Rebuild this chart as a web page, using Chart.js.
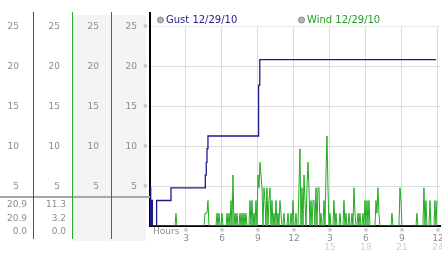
<!DOCTYPE html>
<html>
<head>
<meta charset="UTF-8">
<title>Gust / Wind 12/29/10</title>
<script src="https://cdn.jsdelivr.net/npm/chart.js"></script>
<style>
  html, body { margin: 0; padding: 0; background: #fff; }
  #wrap { position: relative; width: 442px; height: 253px; }
</style>
</head>
<body>
<div id="wrap"><canvas id="windChart" width="442" height="253"></canvas></div>
<script>
// tick labels
const hourTicks = [3, 6, 9, 12, 15, 18, 21, 24];
const hourLabels = ['3', '6', '9', '12', '3', '6', '9', '12'];
const hourLabels2 = ['', '', '', '', '15', '18', '21', '24'];
const valueTicks = [5, 10, 15, 20, 25];

// gust: peak so far today (step line), change points in hours
const gustHours  = [0,   0.06, 0.14, 0.2, 0.55, 1.75, 4.61, 4.69, 4.75, 4.83, 9.05, 9.15, 23.85];
const gustValues = [4.8, 0,    3.2,  0,   3.2,  4.8,  6.4,  8.0,  9.7,  11.3, 17.7, 20.9, 20.9];

// wind: one reading every 5 minutes from midnight, one row per hour
const windStepMinutes = 5;
const windValues = [
  0, 0, 0, 0, 0, 0, 0, 0, 0, 0, 0, 0,
  0, 0, 0, 0, 0, 0, 0, 0, 0, 0, 0, 0,
  0, 0, 1.6, 0, 0, 0, 0, 0, 0, 0, 0, 0,
  0, 0, 0, 0, 0, 0, 0, 0, 0, 0, 0, 0,
  0, 0, 0, 0, 0, 0, 0, 1.6, 1.6, 1.6, 3.2, 0,
  0, 0, 0, 0, 0, 0, 0, 1.6, 0, 1.6, 0, 0,
  1.6, 0, 0, 0, 0, 1.6, 0, 1.6, 0, 3.2, 0, 6.4,
  0, 1.6, 0, 1.6, 0, 0, 1.6, 0, 1.6, 0, 1.6, 0,
  1.6, 0, 0, 0, 3.2, 0, 3.2, 0, 1.6, 0, 3.2, 0,
  6.4, 4.8, 8.0, 6.4, 4.8, 0, 4.8, 3.2, 0, 4.8, 0, 3.2,
  4.8, 0, 3.2, 0, 1.6, 0, 3.2, 0, 1.6, 0, 3.2, 1.6,
  0, 0, 1.6, 0, 0, 0, 1.6, 0, 0, 1.6, 0, 3.2,
  0, 0, 1.6, 0, 0, 4.8, 9.7, 0, 4.8, 0, 6.4, 3.2,
  0, 4.8, 8.0, 4.8, 0, 3.2, 0, 3.2, 3.2, 0, 4.8, 0,
  4.8, 4.8, 0, 1.6, 0, 0, 3.2, 0, 6.4, 11.3, 4.8, 0,
  1.6, 0, 0, 0, 3.2, 0, 1.6, 0, 0, 0, 1.6, 0,
  0, 0, 3.2, 0, 1.6, 0, 0, 1.6, 0, 0, 1.6, 0,
  4.8, 1.6, 0, 0, 1.6, 0, 1.6, 0, 0, 1.6, 0, 3.2,
  0, 3.2, 0, 3.2, 0, 0, 0, 0, 0, 0, 3.2, 1.6,
  4.8, 1.6, 0, 0, 0, 0, 0, 0, 0, 0, 0, 0,
  0, 0, 1.6, 0, 0, 0, 0, 0, 0, 0, 4.8, 3.2,
  0, 0, 0, 0, 0, 0, 0, 0, 0, 0, 0, 0,
  0, 0, 0, 1.6, 0, 0, 0, 0, 0, 0, 4.8, 0,
  3.2, 0, 0, 0, 3.2, 0, 0, 0, 0, 3.2, 0, 3.2
];

const gustLabel = 'Gust 12/29/10';
const windLabel = 'Wind 12/29/10';

const FONT = 'DejaVu Sans';
const GRID = '#dcdcdc';
const TICK = '#8c8c8c';
const BLUE_COL = '#3050c0';
const GREEN_COL = '#2caa2c';
const RED_COL = '#c03030';

const gustPoints = gustHours.map((h, i) => ({ x: h, y: gustValues[i] }));
const windPoints = windValues.map((v, i) => ({ x: i * windStepMinutes / 60, y: v }));

// max / current / min shown under the left columns
const stats = values => [Math.max(...values), values[values.length - 1], Math.min(...values)];
const gustStats = stats(gustValues);
const windStats = stats(windValues);

function sideAxis(color, width, weight, pad) {
  return {
    position: 'left',
    weight: weight,
    min: 0,
    max: 26.75,
    grid: { display: false, drawTicks: false },
    border: { display: true, color: color, width: 1 },
    ticks: { color: TICK, padding: pad, font: { family: FONT, size: 9 }, callback: v => v },
    afterBuildTicks: s => { s.ticks = valueTicks.map(v => ({ value: v })); },
    afterFit: s => { s.width = width; s.paddingTop = 0; s.paddingBottom = 0; }
  };
}

const panelPlugin = {
  id: 'panel',
  beforeDraw(chart) {
    const { ctx, scales } = chart;
    ctx.save();
    ctx.fillStyle = '#f4f4f4';
    ctx.fillRect(scales.yRed.left + 1, 15, scales.yRed.width - 1, 226);
    ctx.fillRect(scales.y.left + 1, 15, scales.y.width - 5, 226);
    ctx.restore();
  },
  beforeDatasetsDraw(chart) {
    // vertical grid only runs up to the 25 line
    const { ctx, chartArea, scales } = chart;
    const y25 = scales.y.getPixelForValue(25);
    ctx.save();
    ctx.fillStyle = '#fff';
    ctx.fillRect(chartArea.left + 1, chartArea.top, chartArea.right - chartArea.left, y25 - chartArea.top - 0.5);
    ctx.restore();
  },
  afterDraw(chart) {
    const { ctx, chartArea, scales } = chart;
    ctx.save();

    // separator above the stats rows
    ctx.strokeStyle = '#a8a8a8';
    ctx.lineWidth = 2;
    ctx.beginPath();
    ctx.moveTo(0, 197);
    ctx.lineTo(chartArea.left, 197);
    ctx.stroke();

    // column lines run past the plot
    ctx.lineWidth = 1;
    [['yBlue', BLUE_COL], ['yGreen', GREEN_COL], ['yRed', RED_COL]].forEach(([id, col]) => {
      const x = Math.round(scales[id].right - 0.5) + 0.5;
      ctx.strokeStyle = col;
      ctx.beginPath();
      ctx.moveTo(x, 12);
      ctx.lineTo(x, 239);
      ctx.stroke();
    });

    // stats text
    ctx.font = '9px ' + FONT;
    ctx.fillStyle = TICK;
    ctx.textAlign = 'right';
    ctx.textBaseline = 'middle';
    const rows = [205, 218.5, 232];
    gustStats.forEach((v, i) => ctx.fillText(v.toFixed(1), scales.yBlue.right - 6, rows[i]));
    windStats.forEach((v, i) => ctx.fillText(v.toFixed(1), scales.yGreen.right - 6, rows[i]));

    // small tick glyphs
    ctx.font = '6px ' + FONT;
    ctx.fillStyle = '#a0a0a0';
    ctx.textAlign = 'center';
    valueTicks.forEach(v => ctx.fillText('\u203B', chartArea.left - 4.5, scales.y.getPixelForValue(v)));
    hourTicks.forEach(h => ctx.fillText('\u203B', scales.x.getPixelForValue(h), 230.5));

    // axis name
    ctx.font = '9px ' + FONT;
    ctx.fillStyle = TICK;
    ctx.textAlign = 'left';
    ctx.fillText('Hours', 153, 232);

    // legend
    chart.data.datasets.forEach(ds => {
      const lx = ds.legendX;
      ctx.beginPath();
      ctx.arc(lx + 2.5, 20, 3, 0, Math.PI * 2);
      ctx.fillStyle = '#b4b4b4';
      ctx.fill();
      ctx.strokeStyle = '#8a8a8a';
      ctx.lineWidth = 1;
      ctx.stroke();
      ctx.font = '10px ' + FONT;
      ctx.fillStyle = ds.legendColor;
      ctx.textAlign = 'left';
      ctx.textBaseline = 'middle';
      ctx.fillText(ds.label, lx + 8, 20.5);
    });
    ctx.restore();
  }
};

new Chart(document.getElementById('windChart'), {
  type: 'line',
  data: {
    datasets: [
      {
        label: gustLabel,
        data: gustPoints,
        stepped: 'before',
        borderColor: '#1c1c8c',
        borderWidth: 1.3,
        pointRadius: 0,
        legendX: 158,
        legendColor: '#1c1c8c'
      },
      {
        label: windLabel,
        data: windPoints,
        borderColor: '#22aa22',
        borderWidth: 1,
        pointRadius: 0,
        tension: 0,
        legendX: 299,
        legendColor: '#22a022'
      }
    ]
  },
  options: {
    responsive: false,
    animation: false,
    events: [],
    layout: { padding: { top: 13, left: 0, right: 2, bottom: 0 } },
    plugins: { legend: { display: false }, tooltip: { enabled: false } },
    scales: {
      x: {
        type: 'linear',
        position: 'bottom',
        weight: 0,
        min: 0,
        max: 24.17,
        grid: { color: GRID, drawTicks: false },
        border: { color: '#000', width: 2 },
        ticks: { color: TICK, padding: 7, autoSkip: false, maxRotation: 0, font: { family: FONT, size: 9 },
                 callback: (v, i) => hourLabels[i] },
        afterBuildTicks: s => { s.ticks = hourTicks.map(v => ({ value: v })); },
        afterFit: s => { s.height = 16; s.paddingLeft = 0; s.paddingRight = 0; }
      },
      x2: {
        type: 'linear',
        position: 'bottom',
        weight: 1,
        min: 0,
        max: 24.17,
        grid: { display: false, drawTicks: false },
        border: { display: false },
        ticks: { color: '#cfcfcf', padding: 0, autoSkip: false, maxRotation: 0, font: { family: FONT, size: 9 },
                 callback: (v, i) => hourLabels2[i] },
        afterBuildTicks: s => { s.ticks = hourTicks.map(v => ({ value: v })); },
        afterFit: s => { s.height = 11; s.paddingLeft = 0; s.paddingRight = 0; }
      },
      y: {
        position: 'left',
        weight: 0,
        min: 0,
        max: 26.75,
        grid: { color: GRID, drawTicks: false },
        border: { color: '#000', width: 2 },
        ticks: { color: TICK, padding: 13, font: { family: FONT, size: 9 }, callback: v => v },
        afterBuildTicks: s => { s.ticks = valueTicks.map(v => ({ value: v })); },
        afterFit: s => { s.width = 39; s.paddingTop = 0; s.paddingBottom = 0; }
      },
      yRed: sideAxis(RED_COL, 39, 1, 12),
      yGreen: sideAxis(GREEN_COL, 39, 2, 12),
      yBlue: sideAxis(BLUE_COL, 33, 3, 14)
    }
  },
  plugins: [panelPlugin]
});
</script>
</body>
</html>
